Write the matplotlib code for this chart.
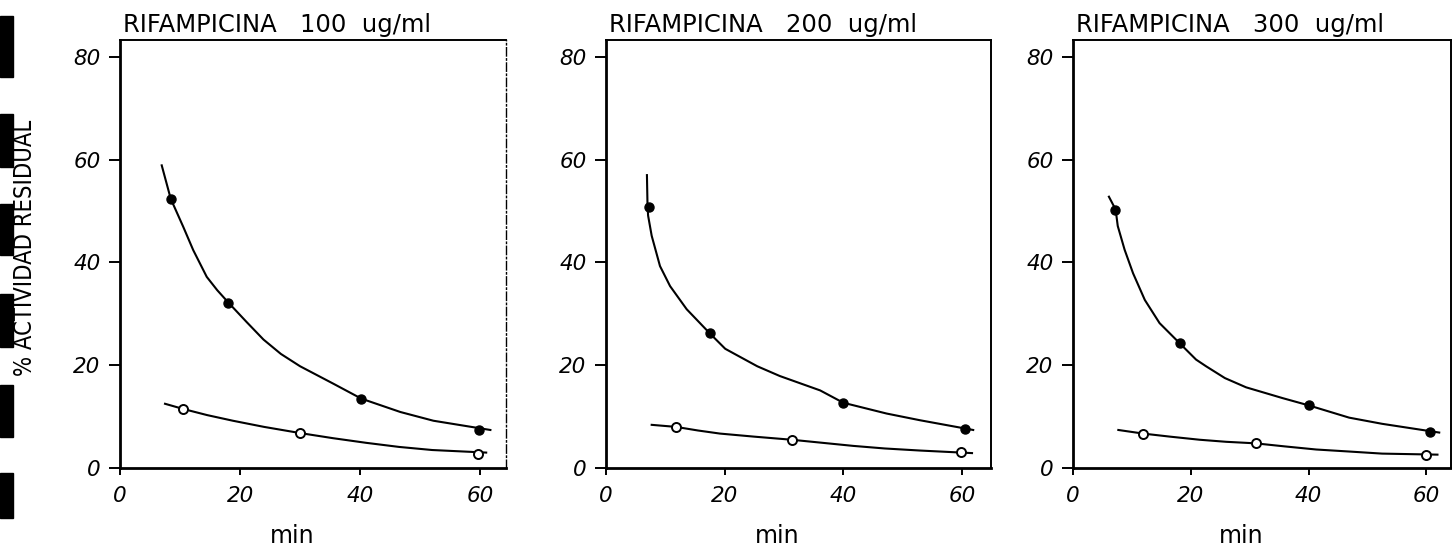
import matplotlib
matplotlib.use('Agg')
import matplotlib.pyplot as plt
from matplotlib.patches import Rectangle

# concentrations shown in the panel titles
doses = ['100', '200', '300']

# measured points (min, % residual activity) - filled and open symbols
filled_x = [[8.5, 18.0, 40.2, 59.8],
            [7.3, 17.5, 40.0, 60.5],
            [7.2, 18.1, 40.0, 60.7]]
filled_y = [[52.4, 32.2, 13.5, 7.4],
            [50.7, 26.2, 12.7, 7.5],
            [50.3, 24.3, 12.2, 7.1]]
open_x = [[10.5, 30.0, 59.7],
          [11.8, 31.3, 59.8],
          [11.9, 31.0, 60.0]]
open_y = [[11.5, 6.8, 2.8],
          [8.0, 5.5, 3.2],
          [6.7, 4.8, 2.6]]

# fitted curves
curve_f_x = [[6.95, 8.45, 10.55, 12.2, 14.45, 16.2, 18.05, 21.1, 23.9, 26.8, 30.0, 35.55, 40.2, 46.7, 52.2, 61.7],
             [6.9, 7.0, 7.1, 7.7, 9.1, 10.8, 13.6, 17.5, 20.1, 22.0, 25.5, 29.3, 36.1, 40.0, 47.3, 52.9, 61.9],
             [6.1, 7.24, 7.6, 8.76, 10.2, 12.2, 14.7, 18.1, 20.9, 22.6, 25.8, 29.4, 35.6, 40.0, 46.9, 52.5, 62.2]]
curve_f_y = [[58.9, 52.4, 46.9, 42.4, 37.2, 34.6, 32.2, 28.4, 25.0, 22.2, 19.8, 16.4, 13.5, 10.9, 9.2, 7.4],
             [57.0, 51.0, 49.1, 45.2, 39.3, 35.4, 30.9, 26.2, 23.2, 22.0, 19.8, 17.9, 15.1, 12.7, 10.6, 9.3, 7.4],
             [52.8, 50.3, 47.1, 42.5, 37.9, 32.7, 28.2, 24.3, 21.1, 19.8, 17.5, 15.7, 13.6, 12.2, 9.8, 8.6, 6.9]]
curve_o_x = [[7.5, 10.5, 14.5, 18.8, 24.0, 30.0, 35.5, 41.0, 46.5, 52.0, 61.0],
             [7.7, 11.8, 15.5, 19.2, 25.0, 31.3, 36.5, 41.7, 47.0, 52.9, 61.7],
             [7.7, 11.9, 16.5, 21.5, 26.0, 31.0, 36.0, 41.3, 47.0, 52.5, 61.9]]
curve_o_y = [[12.5, 11.5, 10.3, 9.2, 8.0, 6.8, 5.8, 4.9, 4.1, 3.5, 3.0],
             [8.4, 8.0, 7.3, 6.7, 6.1, 5.5, 4.9, 4.3, 3.8, 3.4, 2.9],
             [7.4, 6.7, 6.1, 5.5, 5.1, 4.8, 4.2, 3.6, 3.2, 2.8, 2.6]]

x_ticks = [0, 20, 40, 60]
y_ticks = [0, 20, 40, 60, 80]


def main():
    W, H = 1452, 552
    fig = plt.figure(figsize=(W / 100, H / 100), dpi=100)

    # axes boxes in pixels: left, right
    boxes = [(120, 506), (606, 991), (1073, 1451)]
    top_px, bot_px = 40.5, 468
    xmax = [64.3, 64.9, 64.2]

    tick_font = dict(family='DejaVu Sans', style='italic', size=15.5)

    for i, (l, r) in enumerate(boxes):
        ax = fig.add_axes([l / W, 1 - bot_px / H, (r - l) / W, (bot_px - top_px) / H])
        ax.plot(curve_f_x[i], curve_f_y[i], color='black', lw=1.5)
        ax.plot(curve_o_x[i], curve_o_y[i], color='black', lw=1.5)
        ax.plot(filled_x[i], filled_y[i], 'o', ms=6.5, color='black')
        ax.plot(open_x[i], open_y[i], 'o', ms=6.5, mfc='white', mec='black', mew=1.4)

        ax.set_xlim(0, xmax[i])
        ax.set_ylim(0, 83.2)
        ax.set_xticks(x_ticks)
        ax.set_yticks(y_ticks)
        ax.set_xticklabels([str(v) for v in x_ticks], fontdict=tick_font)
        ax.set_yticklabels([str(v) for v in y_ticks], fontdict=tick_font)
        ax.tick_params(axis='y', direction='out', length=8, width=1.4, pad=6)
        ax.tick_params(axis='x', direction='out', length=5, width=1.4, pad=8)
        for s in ax.spines.values():
            s.set_linewidth(1.4)
        ax.spines['left'].set_linewidth(2.0)
        ax.spines['bottom'].set_linewidth(2.0)
        if i == 0:
            ax.spines['right'].set_linestyle((0, (6, 2, 1, 2)))
            ax.spines['right'].set_linewidth(1.0)

        ax.set_xlabel('min', fontsize=17, family='DejaVu Sans')
        ax.xaxis.label.set_va('center')
        ax.xaxis.set_label_coords(0.445, -(536 - bot_px) / (bot_px - top_px))
        ax.set_title('RIFAMPICINA   ' + doses[i] + '  ug/ml', loc='left',
                     fontsize=17.5, family='DejaVu Sans', pad=6, x=0.008)

    fig.text(25 / W, 1 - 248 / H, '% ACTIVIDAD RESIDUAL', rotation=90,
             ha='center', va='center', fontsize=17, fontstretch='condensed',
             family=['DejaVu Sans'])

    # dark strips along the scanned page edge
    for y0, y1 in [(16, 77), (114, 167), (204, 255), (294, 347), (385, 437), (473, 518)]:
        fig.patches.append(Rectangle((0, 1 - y1 / H), 13 / W, (y1 - y0) / H,
                                     transform=fig.transFigure, color='black'))

    fig.savefig('out.png', dpi=100)


if __name__ == '__main__':
    main()
